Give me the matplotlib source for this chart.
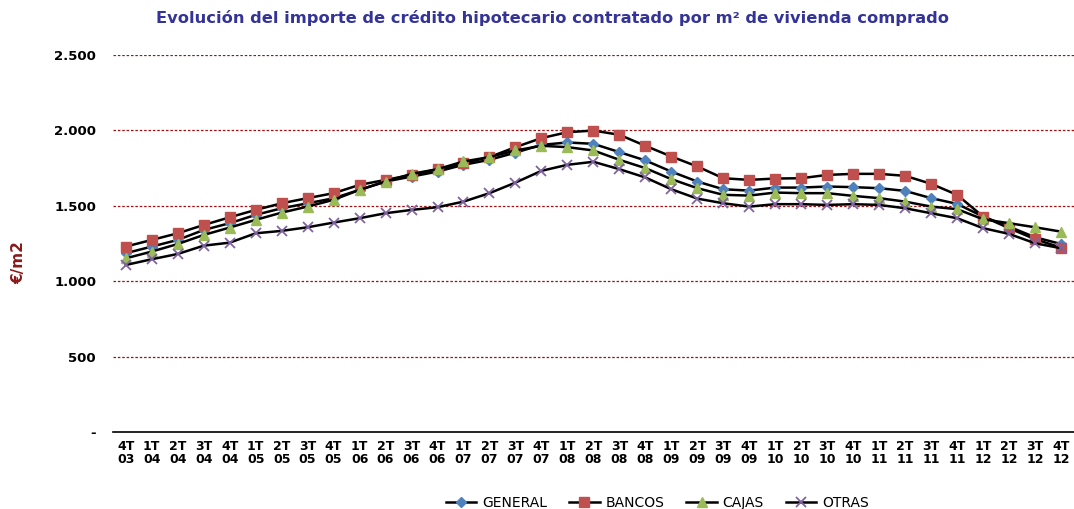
import numpy as np
import matplotlib.pyplot as plt

# Quarter labels 4T03 .. 4T12
quarters = ["4T\n03"]
for yy in range(4, 13):
    for q in range(1, 5):
        quarters.append(f"{q}T\n{yy:02d}")

general = [1186, 1230, 1274, 1340, 1385, 1440, 1484, 1517, 1550, 1606, 1661, 1694, 1727,
           1772, 1805, 1853, 1904, 1920, 1911, 1856, 1801, 1727, 1661, 1610, 1601, 1621,
           1621, 1628, 1624, 1617, 1599, 1551, 1513, 1429, 1362, 1292, 1247]
bancos = [1230, 1274, 1318, 1373, 1424, 1473, 1517, 1551, 1584, 1639, 1672, 1705, 1743,
          1783, 1823, 1889, 1949, 1988, 1999, 1971, 1898, 1827, 1761, 1683, 1672, 1681,
          1683, 1705, 1712, 1712, 1699, 1646, 1573, 1429, 1352, 1279, 1223]
cajas = [1152, 1197, 1247, 1307, 1356, 1407, 1455, 1495, 1540, 1606, 1661, 1712, 1743,
         1794, 1823, 1867, 1898, 1889, 1867, 1805, 1750, 1677, 1617, 1573, 1568, 1588,
         1584, 1584, 1566, 1551, 1528, 1495, 1478, 1411, 1385, 1358, 1329]
otras = [1108, 1146, 1181, 1236, 1256, 1318, 1334, 1358, 1389, 1418, 1451, 1473, 1491,
         1528, 1584, 1654, 1732, 1772, 1792, 1743, 1688, 1610, 1548, 1517, 1495, 1511,
         1511, 1506, 1511, 1506, 1484, 1451, 1418, 1352, 1314, 1252, 1219]

x = np.arange(len(quarters))

fig = plt.figure(figsize=(10.74, 5.09), dpi=100)
ax = fig.add_axes([0.105, 0.151, 0.895, 0.741])

ax.plot(x, general, color='black', lw=1.8, marker='D', ms=5.5, mfc='#4F81BD', mec='#4F81BD', label='GENERAL')
ax.plot(x, bancos, color='black', lw=1.8, marker='s', ms=7, mfc='#C0504D', mec='#C0504D', label='BANCOS')
ax.plot(x, cajas, color='black', lw=1.8, marker='^', ms=7, mfc='#9BBB59', mec='#9BBB59', label='CAJAS')
ax.plot(x, otras, color='black', lw=1.8, marker='x', ms=7, mew=1.3, mfc='#8064A2', mec='#8064A2', label='OTRAS')

ax.set_xlim(-0.5, len(quarters) - 0.5)
ax.set_ylim(0, 2500)
ax.set_yticks([0, 500, 1000, 1500, 2000, 2500])
ax.set_yticklabels(['-', '500', '1.000', '1.500', '2.000', '2.500'], fontsize=9.5, fontweight='bold')
ax.set_xticks(x)
ax.set_xticklabels(quarters, fontsize=9, fontweight='bold', linespacing=0.95)
ax.tick_params(axis='both', length=0)
ax.tick_params(axis='y', pad=12)
ax.tick_params(axis='x', pad=6)

for v in [500, 1000, 1500, 2000, 2500]:
    ax.axhline(v, color='#A01010', lw=0.9, ls=(0, (2, 1.5)), zorder=0)

for s in ['left', 'right', 'top']:
    ax.spines[s].set_visible(False)
ax.spines['bottom'].set_color('black')
ax.spines['bottom'].set_linewidth(1.2)

fig.text(0.017, 0.485, '€/m2', rotation=90, color='#8B1A1A', fontsize=11,
         fontweight='bold', ha='center', va='center')
fig.text(0.514, 0.965, 'Evolución del importe de crédito hipotecario contratado por m² de vivienda comprado',
         color='#333399', fontsize=11.7, fontweight='bold', ha='center', va='center')

fig.legend(loc='center', bbox_to_anchor=(0.612, 0.012), ncol=4, frameon=False,
           fontsize=10, handlelength=2.2, columnspacing=1.6, handletextpad=0.4)

fig.savefig('out.png', dpi=100)
